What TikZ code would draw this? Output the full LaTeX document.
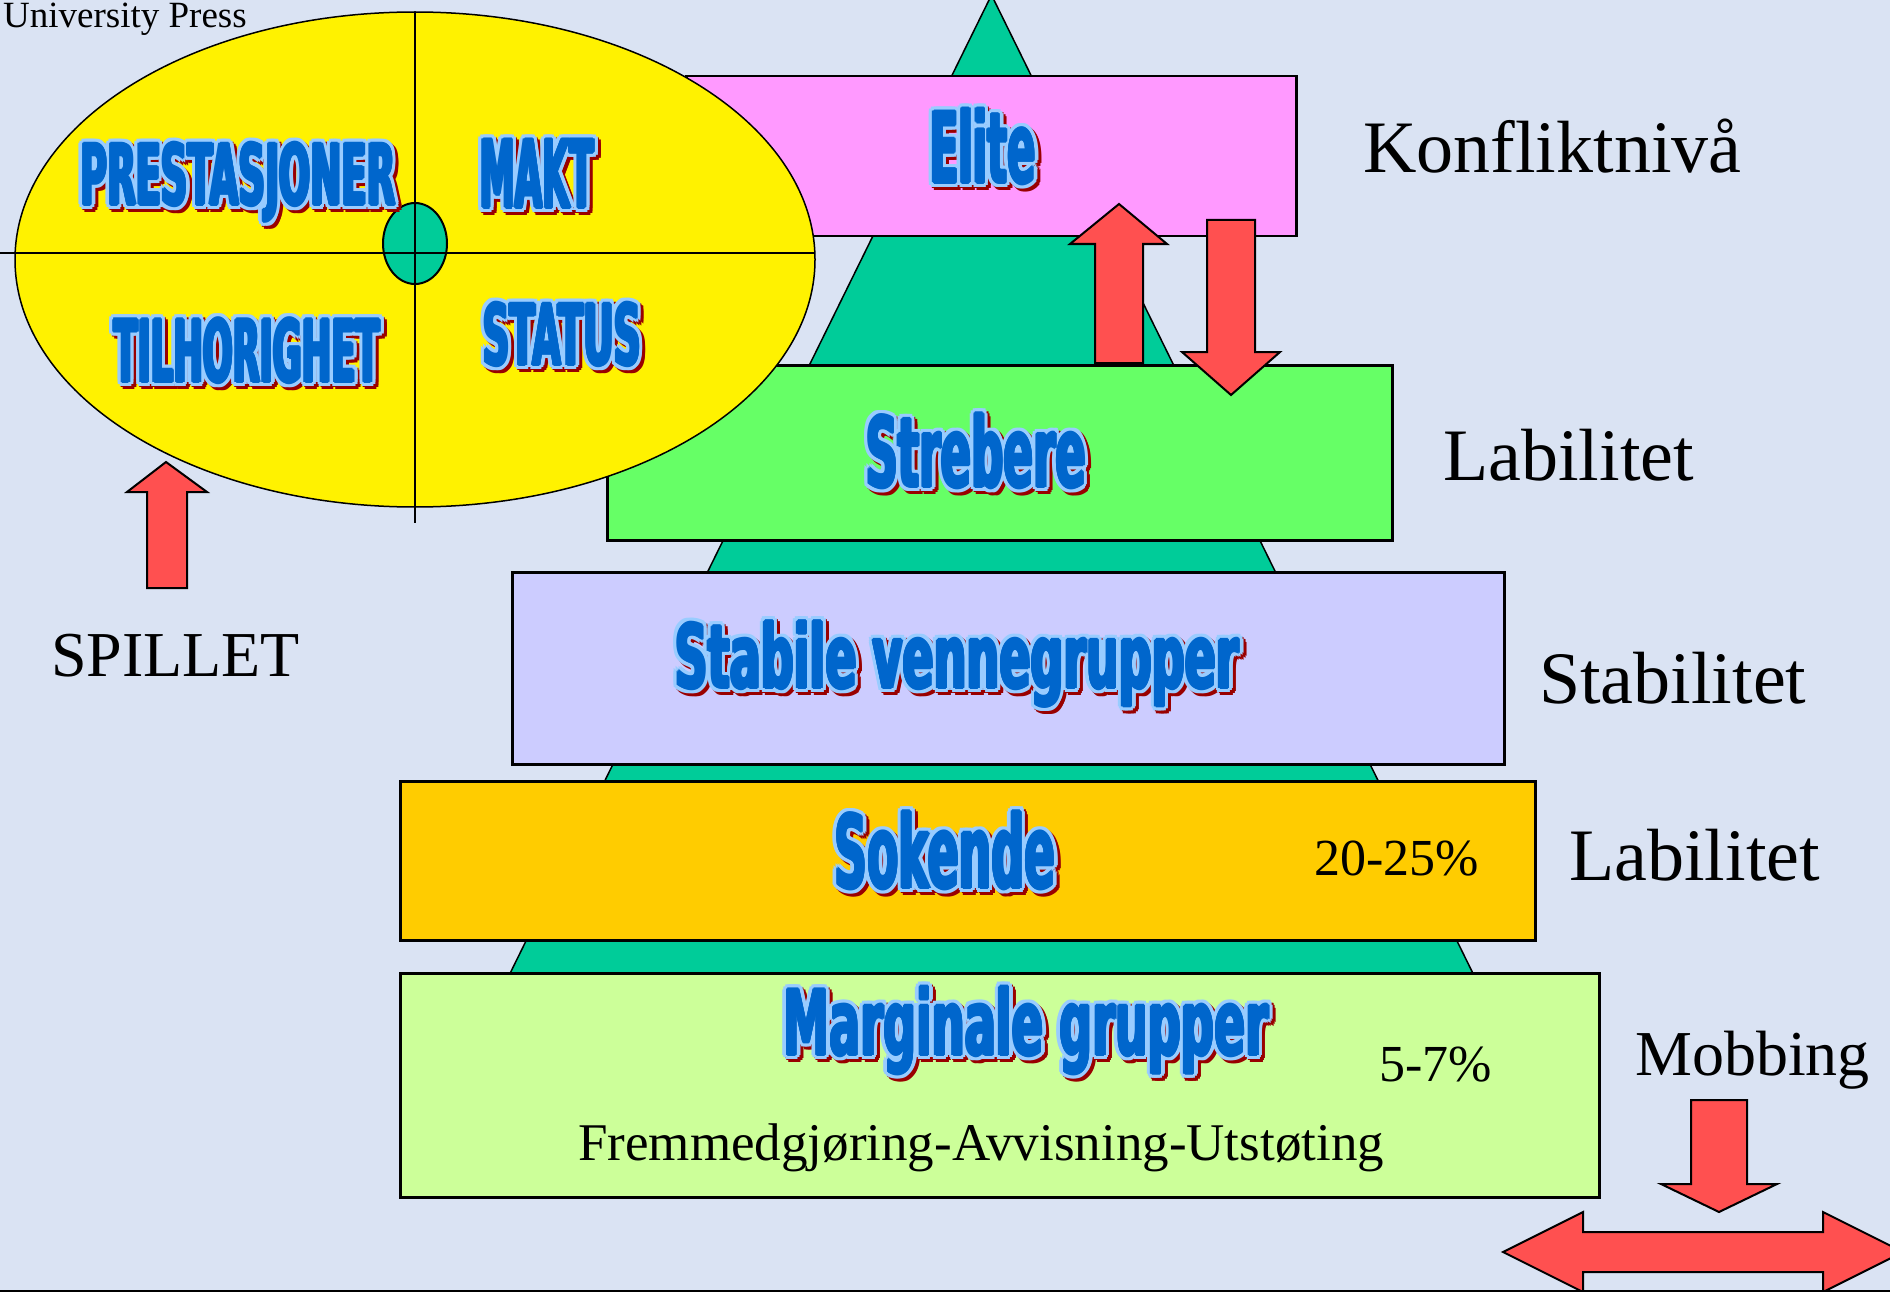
\documentclass[tikz,border=0pt]{standalone}
\usepackage{fontspec}
\usepackage{graphicx}
\setmainfont{Liberation Serif}
\newfontfamily\wafont{DejaVu Sans}
\definecolor{bgc}{HTML}{DAE3F3}
\definecolor{pyr}{HTML}{00CC99}
\definecolor{elitec}{HTML}{FF99FF}
\definecolor{strebc}{HTML}{66FF66}
\definecolor{stabc}{HTML}{CCCCFF}
\definecolor{sokc}{HTML}{FFCC00}
\definecolor{margc}{HTML}{CCFF99}
\definecolor{arrc}{HTML}{FF5050}
\definecolor{txblue}{HTML}{0066CC}
\definecolor{olblue}{HTML}{99CCFF}
\definecolor{shred}{HTML}{990000}
\newbox\wabx
\newbox\wabxs
\newcommand\wring[5]{% colour, radius, dx, dy, step
  \foreach \a in {0,#5,...,359}{%
    \pgfmathsetlengthmacro\wdx{#3+#2*cos(\a)}%
    \pgfmathsetlengthmacro\wdy{#4+#2*sin(\a)}%
    \rlap{\kern\wdx\raise\wdy\hbox{\color{#1}\copy\wabxs}}}}
\newcommand\wart[3]{%
  \setbox\wabx\hbox{\fontsize{#1pt}{#1pt}\selectfont\wafont\bfseries #3}%
  \pgfmathsetmacro\wasx{(#2-3)/\the\wd\wabx}%
  \setbox\wabxs\hbox{\scalebox{\wasx}[1]{\copy\wabx}}%
  \hbox{%
    \rlap{\kern3pt\raise-3pt\hbox{\color{shred}\copy\wabxs}}%
    \wring{shred}{4.8pt}{3pt}{-3pt}{30}%
    \wring{olblue}{4.8pt}{0pt}{0pt}{30}%
    \wring{txblue}{1.4pt}{0pt}{0pt}{45}%
    \textcolor{txblue}{\copy\wabxs}}}
\tikzset{
  layerbox/.style={draw=black, line width=2.5pt, inner sep=0pt, anchor=north west},
  blockarrow/.style={draw=black, line width=2pt, fill=arrc, line join=miter},
  title/.style={anchor=base, inner sep=0pt},
  plain/.style={anchor=base west, inner sep=0pt, text=black},
}
\begin{document}
\begin{tikzpicture}[x=1pt,y=-1pt]
\useasboundingbox (0,0) rectangle (1890,1292);
\clip (0,0) rectangle (1890,1292);
\fill[bgc] (0,0) rectangle (1890,1292);

% pyramid
\fill[pyr] (991.5,-5) -- (1582.5,1196) -- (400.5,1196) -- cycle;
\draw[line width=1.5pt] (991.5,-5) -- (1582.5,1196) (991.5,-5) -- (400.5,1196);

% layer boxes
\node[layerbox, fill=elitec, minimum width=610pt, minimum height=160pt] (elitebox) at (685,75) {};
\node[layerbox, fill=strebc, minimum width=785pt, minimum height=175pt] (strebbox) at (606,364) {};
\node[layerbox, fill=stabc, minimum width=992pt, minimum height=192pt] (stabbox) at (511,571) {};
\node[layerbox, fill=sokc, minimum width=1135pt, minimum height=159pt] (sokbox) at (399,780) {};
\node[layerbox, fill=margc, minimum width=1199pt, minimum height=224pt] (margbox) at (399,972) {};

% arrows between Elite and Strebere
\draw[blockarrow] (1119,204) -- (1167,244) -- (1143,244) -- (1143,363) -- (1095,363) -- (1095,244) -- (1070,244) -- cycle;
\draw[blockarrow] (1207,220) -- (1255,220) -- (1255,352) -- (1280,352) -- (1231,395) -- (1182,352) -- (1207,352) -- cycle;

% SPILLET arrow
\draw[blockarrow] (166,462) -- (207,492) -- (187,492) -- (187,588) -- (147,588) -- (147,492) -- (127,492) -- cycle;

% Mobbing arrows
\draw[blockarrow] (1691,1100) -- (1747,1100) -- (1747,1184) -- (1777,1184) -- (1719,1212) -- (1661,1184) -- (1691,1184) -- cycle;
\draw[blockarrow] (1503,1252) -- (1583,1212) -- (1583,1232) -- (1823,1232) -- (1823,1212) -- (1903,1252) -- (1823,1292) -- (1823,1272) -- (1583,1272) -- (1583,1292) -- cycle;

% ellipse
\draw[line width=1.5pt, fill=yellow] (415,259.5) ellipse [x radius=400pt, y radius=247.5pt];
\draw[line width=2pt] (0,252.5) -- (815,252.5);
\draw[line width=2pt] (415,12) -- (415,523);
\draw[line width=2pt, fill=pyr] (415,243.5) ellipse [x radius=32pt, y radius=40.5pt];
\draw[line width=2pt] (0,252.5) -- (815,252.5) (415,203) -- (415,284);

% bottom edge line
\draw[line width=2pt] (0,1290.5) -- (1890,1290.5);

% fancy titles
\node[title] (telite) at (983,183) {\wart{98}{109}{Elite}};
\node[title] (tstreb) at (976,487) {\wart{97}{223}{Strebere}};
\node[title] (tstab) at (957,688) {\wart{88}{567}{Stabile vennegrupper}};
\node[title] (tsok) at (945,888) {\wart{101}{224}{Sokende}};
\node[title] (tmarg) at (1026,1055) {\wart{90}{488}{Marginale grupper}};
\node[title] (tpres) at (238,205) {\wart{84}{318}{PRESTASJONER}};
\node[title] (tmakt) at (537,208) {\wart{94}{117}{MAKT}};
\node[title] (ttil) at (247,382) {\wart{86}{269}{TILHORIGHET}};
\node[title] (tstat) at (562,365) {\wart{84}{161}{STATUS}};

% plain texts
\node[plain, font=\fontsize{37pt}{40pt}\selectfont] (univ) at (3,27.5) {University Press};
\node[plain, font=\fontsize{74pt}{80pt}\selectfont] (konf) at (1363,173) {Konfliktnivå};
\node[plain, font=\fontsize{74pt}{80pt}\selectfont] (lab1) at (1443,480) {Labilitet};
\node[plain, font=\fontsize{74pt}{80pt}\selectfont] (stab) at (1539,703) {Stabilitet};
\node[plain, font=\fontsize{74pt}{80pt}\selectfont] (lab2) at (1569,880) {Labilitet};
\node[plain, font=\fontsize{64pt}{70pt}\selectfont] (mobb) at (1635,1075) {Mobbing};
\node[plain, font=\fontsize{64pt}{70pt}\selectfont] (spill) at (51,676) {SPILLET};
\node[plain, font=\fontsize{52pt}{58pt}\selectfont] (p2025) at (1314,875) {20-25\%};
\node[plain, font=\fontsize{52pt}{58pt}\selectfont] (p57) at (1379,1081) {5-7\%};
\node[plain, font=\fontsize{53pt}{58pt}\selectfont] (fremm) at (578,1160) {Fremmedgjøring-Avvisning-Utstøting};
\end{tikzpicture}
\end{document}
